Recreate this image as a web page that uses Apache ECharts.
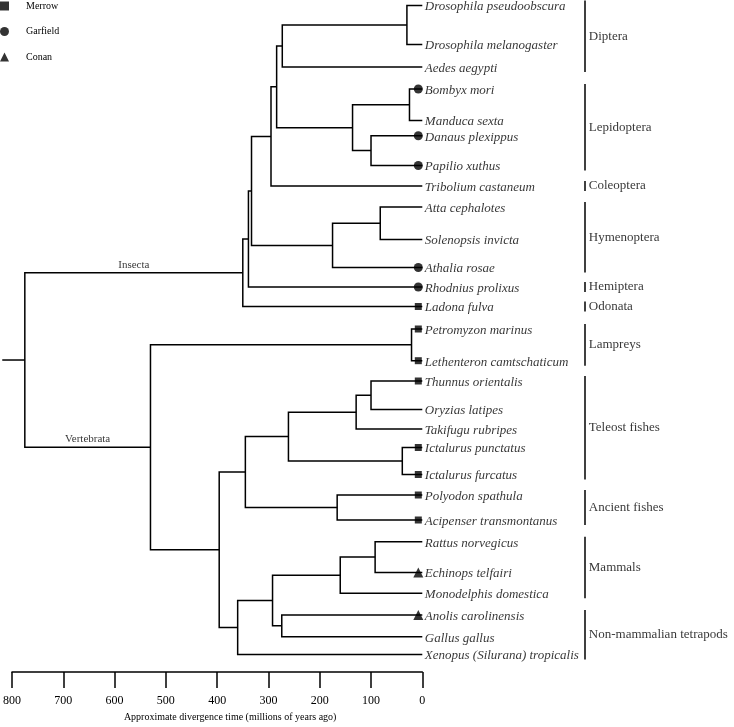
<!DOCTYPE html>
<html><head><meta charset="utf-8">
<script src="https://cdn.jsdelivr.net/npm/echarts@6/dist/echarts.min.js"></script>
<style>html,body{margin:0;padding:0;background:#fff}#c{width:734px;height:727px}</style>
</head><body><div id="c"></div>
<script>
// ---- data ----
const taxa = ['Drosophila pseudoobscura','Drosophila melanogaster','Aedes aegypti','Bombyx mori','Manduca sexta','Danaus plexippus','Papilio xuthus','Tribolium castaneum','Atta cephalotes','Solenopsis invicta','Athalia rosae','Rhodnius prolixus','Ladona fulva','Petromyzon marinus','Lethenteron camtschaticum','Thunnus orientalis','Oryzias latipes','Takifugu rubripes','Ictalurus punctatus','Ictalurus furcatus','Polyodon spathula','Acipenser transmontanus','Rattus norvegicus','Echinops telfairi','Monodelphis domestica','Anolis carolinensis','Gallus gallus','Xenopus (Silurana) tropicalis'];
// vertical row position of each taxon in the figure (figure units, top = 0)
const taxonRow = [5.5,44.5,67,89,120.5,135.7,165.5,186,207,239.5,267.5,287,306.5,329,360.7,381,409.5,429,447.5,474.5,495,520,541.7,572.5,593.3,615,636.7,654.5];
const taxonMarker = ['','','','Garfield','','Garfield','Garfield','','','','Garfield','Garfield','Merrow','Merrow','Merrow','Merrow','','','Merrow','Merrow','Merrow','Merrow','','Conan','','Conan','',''];
const nodeNames = ['Dros','Dipt','BomMan','DanPap','Lepi','DipLep','Endo1','AttSol','Hyme','Holo','Paraneo','Insecta','Lamp','ThuOry','Percomorph','Ictal','Teleostei','Ancient','Actino','Euth','Mamm','Saur','Amnio','Tetra','Gnatho','Vertebrata','Root'];
const nodeTimes = [30,273,25,100,136,284,295,82,175,333,339,350,21,100,129,39,261,166,345,92,160,274,292,360,396,530,775];
const nodeKids = [[0,1],['Dros',2],[3,4],[5,6],['BomMan','DanPap'],['Dipt','Lepi'],['DipLep',7],[8,9],['AttSol',10],['Endo1','Hyme'],['Holo',11],['Paraneo',12],[13,14],[15,16],['ThuOry',17],[18,19],['Percomorph','Ictal'],[20,21],['Teleostei','Ancient'],[22,23],['Euth',24],[25,26],['Mamm','Saur'],['Amnio',27],['Actino','Tetra'],['Lamp','Gnatho'],['Insecta','Vertebrata']];
const rootStemTime = 819;
const branchLabels = ['Insecta','Vertebrata'];
const cladeNames = ['Diptera','Lepidoptera','Coleoptera','Hymenoptera','Hemiptera','Odonata','Lampreys','Teleost fishes','Ancient fishes','Mammals','Non-mammalian tetrapods'];
const cladeFirst = [0,3,7,8,11,12,13,15,20,22,25];
const cladeLast  = [2,6,7,10,11,12,14,19,21,24,27];
const markerTypes = ['Merrow','Garfield','Conan'];
const markerSymbols = ['rect','circle','triangle'];
const markerSizes = [7,9,10];
const axisTitle = 'Approximate divergence time (millions of years ago)';

// ---- build ----
const FONT = 'Liberation Serif, Times New Roman, serif';
const pos = {};
taxa.forEach((n,i)=>{ pos[i] = {t:0, y:taxonRow[i]}; });
const parentOf = {};
nodeNames.forEach((n,k)=>{
  const [a,b] = nodeKids[k];
  pos[n] = {t:nodeTimes[k], y:(pos[a].y+pos[b].y)/2};
  parentOf[a] = n; parentOf[b] = n;
});
const treeLines = nodeNames.map((n,k)=>{
  const [a,b] = nodeKids[k], p = pos[n];
  return {coords:[[pos[a].t,pos[a].y],[p.t,pos[a].y],[p.t,pos[b].y],[pos[b].t,pos[b].y]]};
});
treeLines.push({coords:[[rootStemTime,pos.Root.y],[pos.Root.t,pos.Root.y]]});

const branchLabelData = branchLabels.map(n=>({name:n, value:[(pos[n].t+pos[parentOf[n]].t)/2, pos[n].y]}));
const leafLabelData = taxa.map((n,i)=>({name:n, value:[0, taxonRow[i]]}));
const PAD = 5;
const cladeLines = cladeNames.map((n,k)=>({coords:[[0, taxonRow[cladeFirst[k]]-PAD],[0, taxonRow[cladeLast[k]]+PAD]]}));
const cladeLabelData = cladeNames.map((n,k)=>({name:n, value:[0,(taxonRow[cladeFirst[k]]+taxonRow[cladeLast[k]])/2]}));

const markerSeries = markerTypes.map((m,j)=>({
  type:'scatter', name:m, xAxisIndex:0, yAxisIndex:0,
  symbol:markerSymbols[j], symbolSize:markerSizes[j], symbolOffset:[-4,0],
  itemStyle:{color:'#000'}, silent:true, clip:false, z:5,
  data: taxa.map((n,i)=>taxonMarker[i]===m ? [0,taxonRow[i]] : null).filter(d=>d)
}));

const chart = echarts.init(document.getElementById('c'), null, {renderer:'canvas'});
chart.setOption({
  animation:false,
  backgroundColor:'#fff',
  legend:{
    data: markerTypes.map((m,j)=>({name:m, icon:markerSymbols[j]})),
    orient:'vertical', left:0, top:1, padding:0, itemWidth:9, itemHeight:9, itemGap:15.5,
    selectedMode:false,
    itemStyle:{color:'#000'},
    textStyle:{fontFamily:FONT, fontSize:10, color:'#000', padding:[0,0,0,12]}
  },
  grid:[
    {left:10, width:412.3, top:0, height:672},
    {left:584.3, width:100, top:0, height:672}
  ],
  xAxis:[
    {type:'value', gridIndex:0, min:0, max:800, interval:100, inverse:true,
     axisLine:{show:true, onZero:false, lineStyle:{color:'#000', width:1.5}},
     axisTick:{show:true, length:16, lineStyle:{color:'#000', width:1.5}},
     axisLabel:{color:'#000', fontFamily:FONT, fontSize:12, margin:23},
     splitLine:{show:false},
     name:axisTitle, nameLocation:'middle', nameGap:38,
     nameTextStyle:{color:'#000', fontFamily:FONT, fontSize:10, padding:[0,0,0,26]}},
    {type:'value', gridIndex:1, min:0, max:1, show:false}
  ],
  yAxis:[
    {type:'value', gridIndex:0, min:0, max:672, inverse:true, show:false},
    {type:'value', gridIndex:1, min:0, max:672, inverse:true, show:false}
  ],
  series:[
    {type:'lines', coordinateSystem:'cartesian2d', xAxisIndex:0, yAxisIndex:0, polyline:true,
     clip:false, silent:true, data:treeLines,
     lineStyle:{color:'#000', width:1.5, opacity:1, curveness:0}},
    ...markerSeries,
    {type:'scatter', name:'taxa', xAxisIndex:0, yAxisIndex:0, symbolSize:1, clip:false, silent:true,
     itemStyle:{color:'rgba(0,0,0,0)'}, data:leafLabelData,
     label:{show:true, position:'right', distance:2, offset:[0,1.5], formatter:'{b}', color:'#000',
            fontFamily:FONT, fontStyle:'italic', fontSize:13}},
    {type:'scatter', name:'branch', xAxisIndex:0, yAxisIndex:0, symbolSize:1, clip:false, silent:true,
     itemStyle:{color:'rgba(0,0,0,0)'}, data:branchLabelData,
     label:{show:true, position:'top', distance:2, formatter:'{b}', color:'#000',
            fontFamily:FONT, fontSize:11}},
    {type:'lines', coordinateSystem:'cartesian2d', xAxisIndex:1, yAxisIndex:1, polyline:false,
     clip:false, silent:true, data:cladeLines,
     lineStyle:{color:'#000', width:1.5, opacity:1, curveness:0}},
    {type:'scatter', name:'clades', xAxisIndex:1, yAxisIndex:1, symbolSize:1, clip:false, silent:true,
     itemStyle:{color:'rgba(0,0,0,0)'}, data:cladeLabelData,
     label:{show:true, position:'right', distance:4, formatter:'{b}', color:'#000',
            fontFamily:FONT, fontSize:13}}
  ]
});
</script></body></html>
